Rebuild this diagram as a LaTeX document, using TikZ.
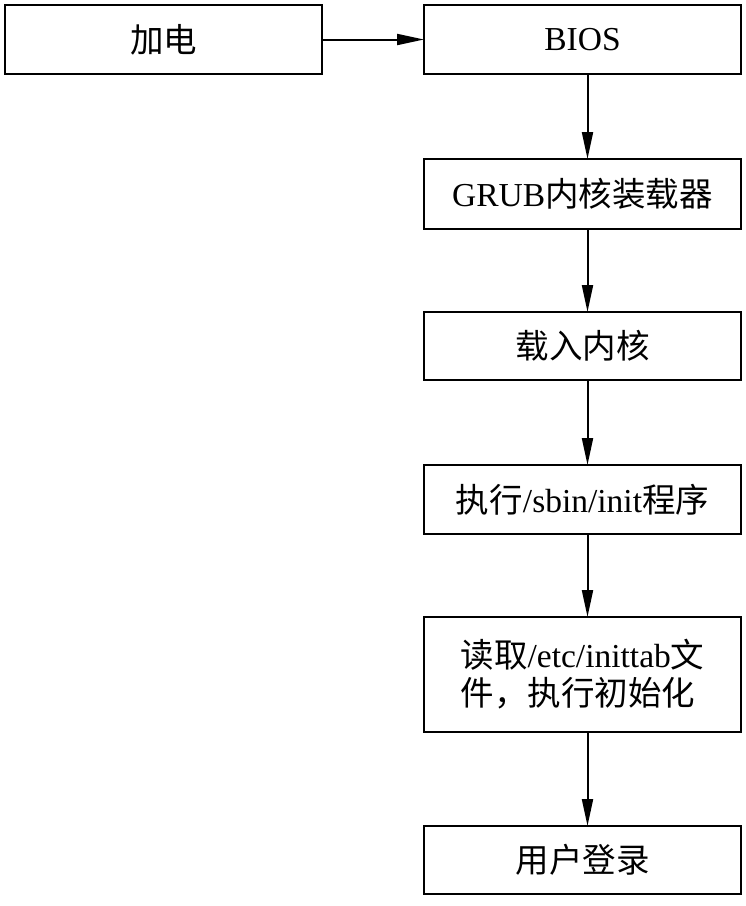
\documentclass[tikz,border=0pt]{standalone}
\usepackage{fontspec}
\setmainfont{Liberation Serif}
\newfontfamily\cjk{Noto Sans CJK SC}
\usetikzlibrary{positioning,arrows.meta}

\begin{document}
\begin{tikzpicture}[->,>={Triangle[length=27pt,width=11pt]},line width=2pt,node distance=85pt,box node/.style={rectangle,draw,minimum width=317pt,minimum height=69pt,inner sep=0pt,outer sep=0pt,font=\fontsize{33.5}{38}\selectfont}]
                \useasboundingbox (0,0) rectangle (746pt,-906pt);
                \node[box node] (power) [anchor=north west] at (5pt,-5pt) {\cjk 加电};
                \node[box node] (bios) [right = 102pt of power]{BIOS};
                \node[box node] (grub) [below = of bios, minimum height=70pt]{GRUB{\cjk 内核装载器}};
                \node[box node] (kernel) [below = 83pt of grub, minimum height=68pt]{\cjk 载入内核};
                \node[box node] (init) [below = of kernel]{{\cjk 执行}/sbin/init{\cjk 程序}};
                \node[box node] (inittab) [below = 83pt of init, minimum height=115pt, align=left]{{\cjk 读取}/etc/inittab{\cjk 文}\\{\cjk 件，执行初始化}};
                \node[box node] (login) [below = 94pt of inittab, minimum height=68pt]{\cjk 用户登录};

                \path[every node/.style={font=\small}]
                    (power) edge (bios)
                    ([xshift=5pt]bios.south) edge ([xshift=5pt]grub.north)
                    ([xshift=5pt]grub.south) edge ([xshift=5pt]kernel.north)
                    ([xshift=5pt]kernel.south) edge ([xshift=5pt]init.north)
                    ([xshift=5pt]init.south) edge ([xshift=5pt]inittab.north)
                    ([xshift=5pt]inittab.south) edge ([xshift=5pt]login.north)
                    ;
            \end{tikzpicture}
\end{document}
